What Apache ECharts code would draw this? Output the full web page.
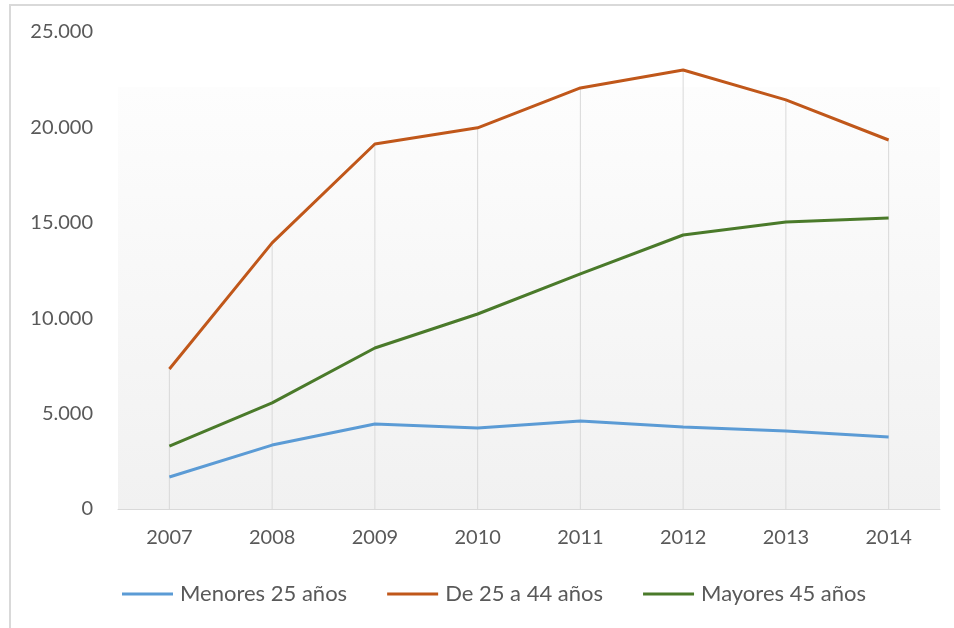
<!DOCTYPE html>
<html>
<head>
<meta charset="utf-8">
<script src="https://cdn.jsdelivr.net/npm/echarts@6/dist/echarts.min.js"></script>
<style>
  html, body { margin: 0; padding: 0; background: #fff; }
  .frame {
    position: absolute; left: 9px; top: 4px; width: 960px; height: 640px;
    border-left: 2px solid #d9d9d9; border-top: 2px solid #d9d9d9;
  }
  #chart { position: absolute; left: 0; top: 0; width: 954px; height: 628px; }
</style>
</head>
<body>
<div class="frame"></div>
<div id="chart"></div>
<script>
// datos
var years = ['2007', '2008', '2009', '2010', '2011', '2012', '2013', '2014'];
var menores25 = [1680, 3350, 4450, 4250, 4610, 4300, 4090, 3780];
var de25a44 = [7340, 13950, 19130, 19980, 22070, 23010, 21440, 19340];
var mayores45 = [3300, 5560, 8440, 10220, 12320, 14360, 15040, 15250];
var seriesNames = ['Menores 25 años', 'De 25 a 44 años', 'Mayores 45 años'];

// lineas de caida: desde el valor maximo de cada año hasta el eje
var dropLines = years.map(function (y, i) {
  return Math.max(menores25[i], de25a44[i], mayores45[i]);
});

var myChart = echarts.init(document.getElementById('chart'));
var font = 'Lato, "Open Sans", sans-serif';

var option = {
  animation: false,
  graphic: [{
    type: 'rect',
    z: -10,
    shape: { x: 118, y: 87, width: 822, height: 422 },
    style: {
      fill: new echarts.graphic.LinearGradient(0, 0, 0, 1, [
        { offset: 0, color: '#fdfdfd' },
        { offset: 1, color: '#f1f1f1' }
      ])
    }
  }],
  grid: {
    left: 118,
    right: 14,
    top: 32,
    bottom: 119
  },
  legend: {
    data: seriesNames,
    bottom: 18,
    left: 117,
    icon: 'rect',
    itemWidth: 51,
    itemHeight: 3,
    itemGap: 40,
    textStyle: {
      color: '#595959',
      fontFamily: font,
      fontSize: 22,
      padding: [0, 0, 0, 2]
    }
  },
  xAxis: {
    type: 'category',
    data: years,
    boundaryGap: true,
    axisLine: { lineStyle: { color: '#d9d9d9', width: 1 } },
    axisTick: { show: false },
    axisLabel: {
      color: '#595959',
      fontFamily: font,
      fontSize: 20,
      margin: 19
    },
    splitLine: { show: false }
  },
  yAxis: {
    type: 'value',
    min: 0,
    max: 25000,
    interval: 5000,
    axisLine: { show: false },
    axisTick: { show: false },
    splitLine: { show: false },
    axisLabel: {
      color: '#595959',
      fontFamily: font,
      fontSize: 20,
      margin: 25,
      formatter: function (v) {
        return v === 0 ? '0' : (v / 1000).toFixed(3);
      }
    }
  },
  series: [
    {
      name: 'drop',
      type: 'bar',
      data: dropLines,
      barWidth: 1,
      silent: true,
      z: 1,
      itemStyle: { color: '#d9d9d9' }
    },
    {
      name: seriesNames[0],
      type: 'line',
      data: menores25,
      symbol: 'none',
      z: 3,
      lineStyle: { color: '#5b9bd5', width: 3 },
      itemStyle: { color: '#5b9bd5' }
    },
    {
      name: seriesNames[1],
      type: 'line',
      data: de25a44,
      symbol: 'none',
      z: 3,
      lineStyle: { color: '#c0571a', width: 3 },
      itemStyle: { color: '#c0571a' }
    },
    {
      name: seriesNames[2],
      type: 'line',
      data: mayores45,
      symbol: 'none',
      z: 3,
      lineStyle: { color: '#4a7a2a', width: 3 },
      itemStyle: { color: '#4a7a2a' }
    }
  ]
};
myChart.setOption(option);
</script>
</body>
</html>
